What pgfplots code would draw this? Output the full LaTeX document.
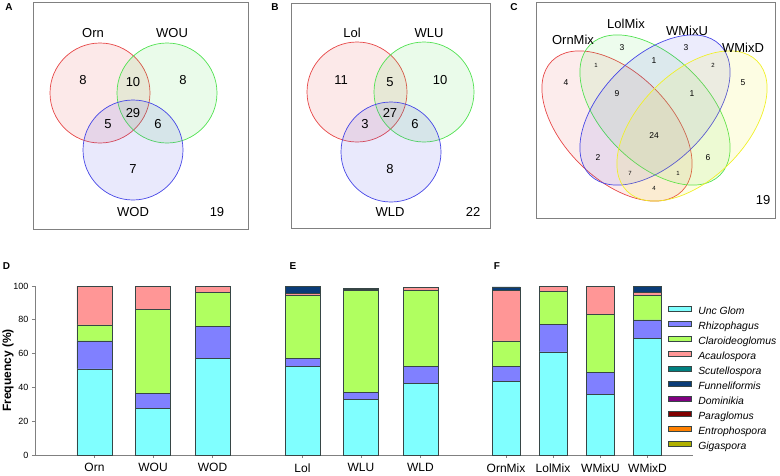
\documentclass[border=0pt]{standalone}
\usepackage{fontspec}
\setmainfont{Liberation Sans}
\usepackage{pgfplots}
\usepackage{pgfplotstable}
\pgfplotsset{compat=1.18}

\definecolor{cUnc}{RGB}{128,255,255}
\definecolor{cRhi}{RGB}{128,128,255}
\definecolor{cCla}{RGB}{176,255,96}
\definecolor{cAca}{RGB}{255,150,150}
\definecolor{cScu}{RGB}{0,128,128}
\definecolor{cFun}{RGB}{10,60,120}
\definecolor{cDom}{RGB}{128,0,128}
\definecolor{cPar}{RGB}{128,0,0}
\definecolor{cEnt}{RGB}{255,128,0}
\definecolor{cGig}{RGB}{176,176,0}
\definecolor{cEdge}{RGB}{55,70,70}
\definecolor{cAxis}{RGB}{128,128,128}
\definecolor{vRed}{RGB}{230,70,70}
\definecolor{vGreen}{RGB}{80,225,80}
\definecolor{vBlue}{RGB}{70,70,230}
\definecolor{vYellow}{RGB}{240,240,40}

\newcommand{\fs}[1]{\fontsize{#1}{#1}\selectfont}

% x = bar centre (px), values in %
\pgfplotstableread{
x     unc  rhi  cla  aca  scu  fun  dom par ent gig
94.5  51   16.5 9.5  23   0    0    0   0   0   0
153   27.5 9    49.5 14   0    0    0   0   0   0
212.5 57   19   20   4    0    0    0   0   0   0
302.5 52.5 4.5  37.5 1.2  0    4    0   0   0   0
361   32.7 4.4  60.1 0    0.8  0.7  0   0   0   0
420.5 42.5 10   45   1.5  0    0    0   0   0   0
}\tDE

\pgfplotstableread{
x     unc  rhi  cla  aca  scu  fun  dom par ent gig
506   43.5 9    15   30   0    2    0   0   0   0
553   61   16.5 19.5 3    0    0    0   0   0   0
600.5 36   13   34   17   0    0    0   0   0   0
647.5 69   11   14.5 1.5  0    4    0   0   0   0
}\tF

\pgfplotsset{mylegimg/.style={legend image code/.code={\draw[##1] (0pt,1pt) rectangle (23pt,6pt);}}}

\newcommand{\DEplot}[2]{\addplot[fill=#1] table[x=x,y=#2]{\tDE};}
\newcommand{\Fplot}[3]{\addplot[fill=#1, mylegimg] table[x=x,y=#2]{\tF};\addlegendentry{#3}}

\pgfplotsset{venn/.style={anchor=north west, scale only axis, y dir=reverse,
  xtick=\empty, ytick=\empty, axis line style={cAxis, line width=0.8pt}, clip=false}}

\begin{document}
\begin{tikzpicture}[x=1pt,y=1pt]
\useasboundingbox (0,0) rectangle (780,-476);

% ---------- Panel A ----------
\begin{axis}[venn, at={(33pt,-2pt)}, width=215pt, height=227pt,
  xmin=33, xmax=248, ymin=2, ymax=229]
\draw[vRed, fill=vRed, fill opacity=0.12, line width=0.7pt] (axis cs:100,93) circle[radius=50pt];
\draw[vGreen, fill=vGreen, fill opacity=0.12, line width=0.7pt] (axis cs:167,93) circle[radius=50pt];
\draw[vBlue, fill=vBlue, fill opacity=0.12, line width=0.7pt] (axis cs:133,150) circle[radius=50pt];
\begin{scope}[font=\fs{13}]
\node at (axis cs:93,33) {Orn};
\node at (axis cs:172,33) {WOU};
\node at (axis cs:133,212) {WOD};
\node at (axis cs:83,80) {8};
\node at (axis cs:133,82) {10};
\node at (axis cs:183,80) {8};
\node at (axis cs:133,113) {29};
\node at (axis cs:108,124) {5};
\node at (axis cs:158,124) {6};
\node at (axis cs:133,169) {7};
\node at (axis cs:217,212) {19};
\end{scope}
\end{axis}

% ---------- Panel B ----------
\begin{axis}[venn, at={(291pt,-3pt)}, width=199pt, height=225pt,
  xmin=291, xmax=490, ymin=3, ymax=228]
\draw[vRed, fill=vRed, fill opacity=0.12, line width=0.7pt] (axis cs:357,92) circle[radius=50pt];
\draw[vGreen, fill=vGreen, fill opacity=0.12, line width=0.7pt] (axis cs:424,92) circle[radius=50pt];
\draw[vBlue, fill=vBlue, fill opacity=0.12, line width=0.7pt] (axis cs:391,152) circle[radius=50pt];
\begin{scope}[font=\fs{13}]
\node at (axis cs:352,33) {Lol};
\node at (axis cs:429,33) {WLU};
\node at (axis cs:390,212) {WLD};
\node at (axis cs:341,80) {11};
\node at (axis cs:390,82) {5};
\node at (axis cs:440,80) {10};
\node at (axis cs:390,113) {27};
\node at (axis cs:365,124) {3};
\node at (axis cs:415,124) {6};
\node at (axis cs:390,169) {8};
\node at (axis cs:473,212) {22};
\end{scope}
\end{axis}

% ---------- Panel C ----------
\begin{axis}[venn, at={(536pt,-2pt)}, width=239pt, height=216pt,
  xmin=536, xmax=775, ymin=2, ymax=218]
\draw[vRed, fill=vRed, fill opacity=0.1, line width=0.7pt, rotate around={-45:(axis cs:617,126)}] (axis cs:617,126) ellipse[x radius=92pt, y radius=53pt];
\draw[vGreen, fill=vGreen, fill opacity=0.1, line width=0.7pt, rotate around={-45:(axis cs:655,110)}] (axis cs:655,110) ellipse[x radius=92pt, y radius=53pt];
\draw[vBlue, fill=vBlue, fill opacity=0.1, line width=0.7pt, rotate around={45:(axis cs:655,110)}] (axis cs:655,110) ellipse[x radius=92pt, y radius=53pt];
\draw[vYellow, fill=vYellow, fill opacity=0.13, line width=0.7pt, rotate around={45:(axis cs:692,126)}] (axis cs:692,126) ellipse[x radius=92pt, y radius=53pt];
\begin{scope}[font=\fs{13}]
\node at (axis cs:573,40) {OrnMix};
\node at (axis cs:626,24) {LolMix};
\node at (axis cs:687,31) {WMixU};
\node at (axis cs:743,48) {WMixD};
\node at (axis cs:763,200) {19};
\end{scope}
\begin{scope}[font=\fs{8.5}]
\node at (axis cs:566,83) {4};
\node at (axis cs:622,48) {3};
\node at (axis cs:654,61) {1};
\node at (axis cs:686,48) {3};
\node at (axis cs:743,83) {5};
\node at (axis cs:617,94) {9};
\node at (axis cs:692,94) {1};
\node at (axis cs:654,136) {24};
\node at (axis cs:598,158) {2};
\node at (axis cs:708,158) {6};
\end{scope}
\begin{scope}[font=\fs{6}]
\node at (axis cs:596,65) {1};
\node at (axis cs:713,65) {2};
\node at (axis cs:630,173) {7};
\node at (axis cs:678,173) {1};
\node at (axis cs:654,188) {4};
\end{scope}
\end{axis}

% ---------- Bars D, E ----------
\begin{axis}[at={(35pt,-455pt)}, anchor=south west, scale only axis,
  width=658pt, height=169pt, xmin=35, xmax=693, ymin=0, ymax=100,
  ybar stacked, bar width=35,
  axis x line*=bottom, axis y line*=left,
  axis line style={cAxis, line width=0.8pt},
  tick style={cAxis, line width=0.8pt}, major tick length=3pt, tick align=outside,
  xtick={94.5,153,212.5,302.5,361,420.5,506,553,600.5,647.5},
  xticklabels={Orn,WOU,WOD,Lol,WLU,WLD,OrnMix,LolMix,WMixU,WMixD},
  ytick={0,20,40,60,80,100},
  x tick label style={font=\fs{12}, yshift=-2pt},
  y tick label style={font=\fs{9}},
  /pgf/number format/assume math mode=true,
  every axis plot/.append style={draw=cEdge, line width=0.6pt},
  clip=false]
\DEplot{cUnc}{unc}
\DEplot{cRhi}{rhi}
\DEplot{cCla}{cla}
\DEplot{cAca}{aca}
\DEplot{cScu}{scu}
\DEplot{cFun}{fun}
\DEplot{cDom}{dom}
\DEplot{cPar}{par}
\DEplot{cEnt}{ent}
\DEplot{cGig}{gig}
\end{axis}

% ---------- Bars F + legend ----------
\begin{axis}[at={(35pt,-455pt)}, anchor=south west, scale only axis,
  width=658pt, height=169pt, xmin=35, xmax=693, ymin=0, ymax=100,
  ybar stacked, bar width=28, hide axis,
  every axis plot/.append style={draw=cEdge, line width=0.6pt},
  legend style={at={(0.962,0.885)}, anchor=north west, draw=none, fill=none,
    font=\itshape\fs{10.4}, inner sep=0pt, row sep=4.2pt, column sep=6.5pt,
    nodes={inner sep=0pt, text height=7pt, text depth=2pt}},
  legend cell align=left,
  clip=false]
\Fplot{cUnc}{unc}{Unc Glom}
\Fplot{cRhi}{rhi}{Rhizophagus}
\Fplot{cCla}{cla}{Claroideoglomus}
\Fplot{cAca}{aca}{Acaulospora}
\Fplot{cScu}{scu}{Scutellospora}
\Fplot{cFun}{fun}{Funneliformis}
\Fplot{cDom}{dom}{Dominikia}
\Fplot{cPar}{par}{Paraglomus}
\Fplot{cEnt}{ent}{Entrophospora}
\Fplot{cGig}{gig}{Gigaspora}
\end{axis}

% ---------- labels ----------
\node[rotate=90, font=\bfseries\fs{12}] at (8,-370.5) {Frequency (\%)};
\begin{scope}[font=\bfseries\fs{10}]
\node at (9,-7.5) {A};
\node at (275,-7.5) {B};
\node at (514,-7.5) {C};
\node at (6.5,-266) {D};
\node at (293,-266) {E};
\node at (497,-266) {F};
\end{scope}
\end{tikzpicture}
\end{document}
